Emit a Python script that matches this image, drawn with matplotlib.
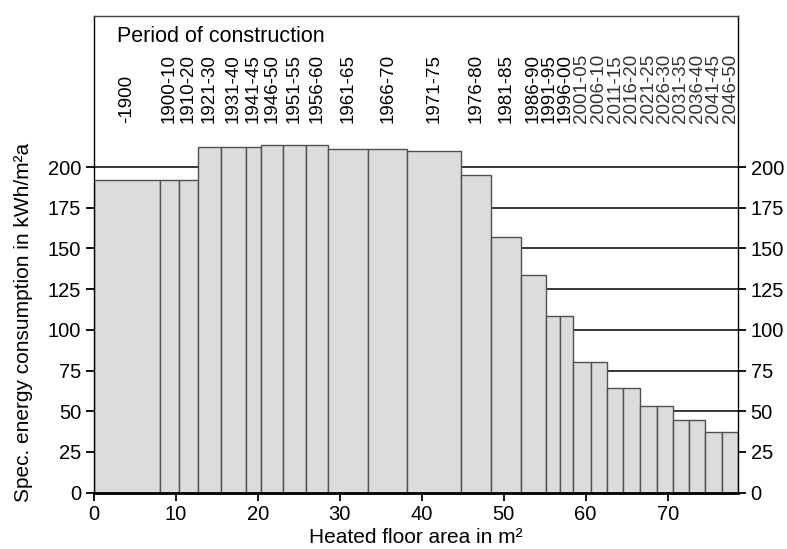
import numpy as np
import matplotlib.pyplot as plt

plt.rcParams['font.family'] = ['Liberation Sans', 'DejaVu Sans']

# periods of construction, floor area per period (m2) and spec. consumption (kWh/m2a)
periods = ['-1900', '1900-10', '1910-20', '1921-30', '1931-40', '1941-45', '1946-50',
           '1951-55', '1956-60', '1961-65', '1966-70', '1971-75', '1976-80', '1981-85',
           '1986-90', '1991-95', '1996-00', '2001-05', '2006-10', '2011-15', '2016-20',
           '2021-25', '2026-30', '2031-35', '2036-40', '2041-45', '2046-50']
areas = [8.1, 2.3, 2.3, 2.8, 3.1, 1.8, 2.7, 2.8, 2.7, 4.9, 4.7, 6.6, 3.7, 3.6,
         3.1, 1.7, 1.6, 2.1, 2.0, 2.0, 2.0, 2.1, 2.0, 1.9, 2.0, 2.0, 2.0]
consumption = [192, 192, 192, 212.5, 212.5, 212.5, 213.5, 213.5, 213.5, 211, 211, 210,
               195, 157, 134, 108.5, 108.5, 80, 80, 64.5, 64.5, 53, 53, 44.5, 44.5,
               37.5, 37.5]
yticks = [0, 25, 50, 75, 100, 125, 150, 175, 200]
xticks = [0, 10, 20, 30, 40, 50, 60, 70]

edges = np.concatenate([[0], np.cumsum(areas)])
centers = (edges[:-1] + edges[1:]) / 2

fig = plt.figure(figsize=(7.87, 5.49), dpi=100)
ax = fig.add_axes([0.119, 0.1026, 0.819, 0.8688])

for y in yticks[1:]:
    ax.axhline(y, color='black', lw=1.1, zorder=1)

ax.bar(edges[:-1], consumption, width=areas, align='edge', color='#dcdcdc',
       edgecolor='#505050', linewidth=1.0, zorder=2)

ax.set_xlim(0, edges[-1])
ax.set_ylim(0, 293)
ax.set_xticks(xticks)
ax.set_yticks(yticks)
ax.tick_params(axis='both', direction='out', length=6, width=1.3, labelsize=14.5,
               colors='black', pad=3)
ax.tick_params(axis='y', right=True, labelright=True)
for s in ['left', 'right', 'top']:
    ax.spines[s].set_linewidth(1.0)
ax.spines['top'].set_color('#404040')
ax.spines['bottom'].set_linewidth(2.0)

ax.set_ylabel('Spec. energy consumption in kWh/m²a', fontsize=15)
ax.yaxis.set_label_coords(-0.094, 0.356)
ax.set_xlabel('Heated floor area in m²', fontsize=15, labelpad=3)

# period labels, nudged left where they would collide
pos = centers.copy()
for i in range(len(pos) - 2, -1, -1):
    pos[i] = min(pos[i], pos[i + 1] - 2.0)
for i, (p, lab) in enumerate(zip(pos, periods)):
    col = 'black' if i < 17 else '#333333'
    ax.text(p, 227, lab, rotation=90, ha='center', va='bottom', fontsize=13.5,
            color=col)
ax.text(2.8, 280, 'Period of construction', fontsize=15.5, ha='left', va='center')

fig.savefig('out.png', dpi=100)
